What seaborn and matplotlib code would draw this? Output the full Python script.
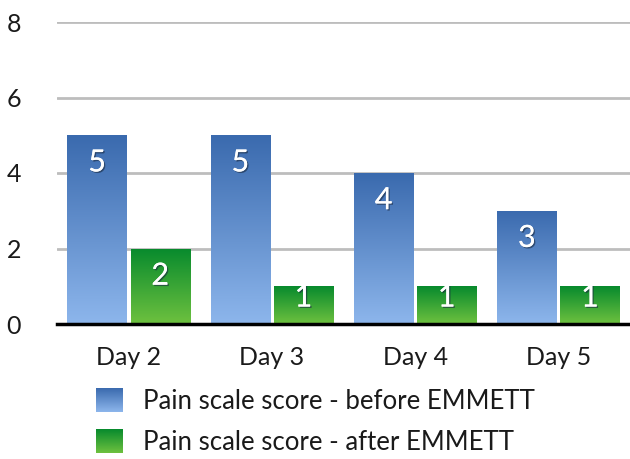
import numpy as np
import pandas as pd
import matplotlib
matplotlib.use("Agg")
import matplotlib.pyplot as plt
import seaborn as sns
from matplotlib.colors import LinearSegmentedColormap
from matplotlib.patches import Rectangle
from matplotlib.image import BboxImage
from matplotlib.transforms import Bbox, TransformedBbox
from matplotlib.legend_handler import HandlerBase
import matplotlib.patheffects as pe

days = ["Day 2", "Day 3", "Day 4", "Day 5"]
before = [5, 5, 4, 3]
after = [2, 1, 1, 1]
series = ["Pain scale score - before EMMETT", "Pain scale score - after EMMETT"]

df = pd.DataFrame({
    "day": days * 2,
    "score": before + after,
    "series": [series[0]] * len(days) + [series[1]] * len(days),
})

grad = {
    series[0]: ("#3A6AAE", "#8DB6EC"),
    series[1]: ("#078A2D", "#6EC13F"),
}

sns.set_style("white")
plt.rcParams["font.family"] = ["Lato", "DejaVu Sans"]

fig = plt.figure(figsize=(6.3, 4.59), dpi=100)
ax = fig.add_axes([57 / 630, 135 / 459, (630 - 57) / 630, (324 - 22) / 459])

sns.barplot(data=df, x="day", y="score", hue="series", hue_order=series,
            palette=["#3A6AAE", "#078A2D"], width=0.88, gap=0.06,
            legend=False, ax=ax, zorder=3)

ax.set_ylim(0, 8)
ax.set_xlim(-0.5, len(days) - 0.5)
ax.set_yticks([0, 2, 4, 6, 8])
ax.yaxis.grid(True, color="#BDBDBD", linewidth=2, zorder=0)
ax.set_axisbelow(True)
for s in ["top", "right", "left"]:
    ax.spines[s].set_visible(False)
ax.spines["bottom"].set_color("black")
ax.spines["bottom"].set_linewidth(2.5)
ax.spines["bottom"].set_zorder(5)
ax.tick_params(axis="both", length=0, labelsize=18, colors="#1a1a1a")
ax.tick_params(axis="y", pad=26)
ax.tick_params(axis="x", pad=16)
ax.set_xlabel("")
ax.set_ylabel("")

def gradient_img(top, bottom):
    cmap = LinearSegmentedColormap.from_list("g", [bottom, top])
    return np.linspace(0, 1, 256).reshape(-1, 1), cmap

# apply gradients to bars
for container, name in zip(ax.containers, series):
    top, bottom = grad[name]
    data, cmap = gradient_img(top, bottom)
    for bar in container:
        x0, y0 = bar.get_x(), bar.get_y()
        w, h = bar.get_width(), bar.get_height()
        im = ax.imshow(data, cmap=cmap, origin="lower", aspect="auto",
                       extent=[x0, x0 + w, y0, y0 + h], zorder=3)
        im.set_clip_path(bar)
        bar.set_facecolor("none")
        bar.set_edgecolor("none")
        val = h
        ty = val - 0.72 if val >= 2 else val - 0.3
        ax.text(x0 + w / 2, ty, f"{int(val)}", ha="center", va="center",
                color="white", fontsize=22, zorder=6,
                path_effects=[pe.withSimplePatchShadow(offset=(1, -1), shadow_rgbFace="#1a2a40", alpha=0.6), pe.Normal()])
ax.set_xlim(-0.5, len(days) - 0.5)
ax.set_ylim(0, 8)

class GradHandler(HandlerBase):
    def __init__(self, top, bottom):
        super().__init__()
        self.top, self.bottom = top, bottom

    def create_artists(self, legend, orig_handle, xdescent, ydescent, width, height, fontsize, trans):
        data, cmap = gradient_img(self.top, self.bottom)
        bb = TransformedBbox(Bbox.from_bounds(-xdescent, -ydescent, width, height), trans)
        img = BboxImage(bb, cmap=cmap, origin="lower", interpolation="bilinear")
        img.set_data(data)
        return [img]

handles = [Rectangle((0, 0), 1, 1) for _ in series]
leg = fig.legend(handles, series, loc="upper left",
                 bbox_to_anchor=(96 / 630, 1 - 388 / 459),
                 borderaxespad=0, borderpad=0,
                 frameon=False, fontsize=18.5, handlelength=1.05, handleheight=1.05,
                 handletextpad=0.78, labelspacing=0.6, labelcolor="#1a1a1a",
                 handler_map={handles[0]: GradHandler(*grad[series[0]]),
                              handles[1]: GradHandler(*grad[series[1]])})

fig.savefig("out.png", dpi=100)
